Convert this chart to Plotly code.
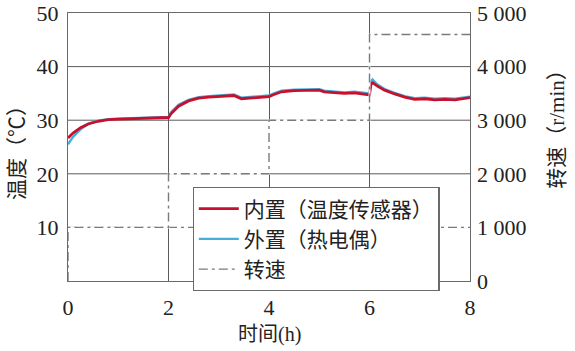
import plotly.graph_objects as go

# ---- data ----
t = [0, 0.1, 0.25, 0.4, 0.6, 0.8, 1.0, 1.3, 1.6, 1.9, 2.0, 2.05, 2.2, 2.4, 2.6, 2.8, 3.0, 3.2, 3.3,
     3.45, 3.6, 3.8, 4.0, 4.1, 4.25, 4.5, 4.8, 5.0, 5.1, 5.3, 5.5, 5.7, 5.9, 6.0, 6.03, 6.06, 6.15,
     6.3, 6.5, 6.7, 6.9, 7.1, 7.3, 7.5, 7.7, 7.9, 8.0]
temp_inner = [26.7, 27.6, 28.6, 29.3, 29.8, 30.1, 30.2, 30.3, 30.3, 30.4, 30.5, 31.2, 32.6, 33.6, 34.1,
              34.3, 34.4, 34.5, 34.6, 34.0, 34.1, 34.2, 34.4, 34.8, 35.3, 35.5, 35.6, 35.6, 35.3, 35.2,
              35.0, 35.1, 34.9, 34.7, 36.8, 37.0, 36.4, 35.6, 34.9, 34.3, 33.9, 34.0, 33.8, 33.9, 33.8,
              34.0, 34.2]
temp_outer = [25.5, 26.9, 28.3, 29.3, 29.9, 30.2, 30.3, 30.4, 30.4, 30.5, 30.6, 31.5, 32.9, 33.8, 34.3,
              34.5, 34.6, 34.7, 34.8, 34.2, 34.3, 34.4, 34.6, 35.0, 35.5, 35.7, 35.8, 35.8, 35.5, 35.4,
              35.2, 35.3, 35.1, 35.0, 37.3, 37.6, 36.7, 35.8, 35.1, 34.5, 34.1, 34.2, 34.0, 34.1, 34.0,
              34.2, 34.4]
speed_t = [0, 0, 2, 4, 6, 8]
speed = [0, 1000, 2000, 3000, 4600, 4600]

x_ticks = [0, 2, 4, 6, 8]
y_ticks = [10, 20, 30, 40, 50]
y2_ticks = [0, 1000, 2000, 3000, 4000, 5000]
y2_labels = ["0", "1 000", "2 000", "3 000", "4 000", "5 000"]
grid_solid = [20, 30, 40]
grid_dashed = [10]

names = ["内置（温度传感器）", "外置（热电偶）", "转速"]

NUM = "Liberation Serif, Noto Sans CJK SC"
CJK = "Noto Sans CJK SC"
GRID = "#5a5a5a"
SPEED_DASH = "9px,4px,3px,4px"

fig = go.Figure()

# white underlay erases gridlines beneath the speed line
fig.add_trace(go.Scatter(x=speed_t, y=speed, yaxis="y2", mode="lines", line_shape="hv",
                         line=dict(color="white", width=2), showlegend=False, hoverinfo="skip"))
fig.add_trace(go.Scatter(x=speed_t, y=speed, yaxis="y2", mode="lines", line_shape="hv",
                         name=names[2], legendrank=3,
                         line=dict(color="#7a7a7a", width=1.4, dash=SPEED_DASH)))
fig.add_trace(go.Scatter(x=t, y=temp_outer, mode="lines", name=names[1], legendrank=2,
                         line=dict(color="#45afdc", width=2.4)))
fig.add_trace(go.Scatter(x=t, y=temp_inner, mode="lines", name=names[0], legendrank=1,
                         line=dict(color="#c8102e", width=2.8)))

shapes = []
for g in grid_solid:
    shapes.append(dict(type="line", xref="paper", x0=0, x1=1, yref="y", y0=g, y1=g,
                       line=dict(color=GRID, width=1), layer="below"))
for g in grid_dashed:
    shapes.append(dict(type="line", xref="paper", x0=0, x1=1, yref="y", y0=g, y1=g,
                       line=dict(color="#7a7a7a", width=1.4, dash=SPEED_DASH), layer="below"))

fig.update_layout(
    width=575, height=351,
    margin=dict(l=68, r=105, t=13, b=70, autoexpand=False),
    paper_bgcolor="white", plot_bgcolor="white",
    showlegend=True,
    shapes=shapes,
    xaxis=dict(range=[0, 8], tickvals=x_ticks, showgrid=True, gridcolor=GRID, gridwidth=1,
               showline=True, linecolor="#6a6a6a", linewidth=1.2, mirror=True, zeroline=False,
               ticks="", ticklabelstandoff=6, layer="below traces", automargin=False,
               tickfont=dict(family=NUM, size=22, color="#222")),
    yaxis=dict(range=[0, 50], tickvals=y_ticks, showgrid=False, zeroline=False,
               showline=True, linecolor="#6a6a6a", linewidth=1.2, mirror=True,
               ticks="", ticklabelstandoff=4, layer="below traces", automargin=False,
               tickfont=dict(family=NUM, size=22, color="#222")),
    yaxis2=dict(range=[0, 5000], overlaying="y", side="right", tickvals=y2_ticks,
                ticktext=y2_labels, showgrid=False, zeroline=False, showline=False,
                ticks="", ticklabelstandoff=6, automargin=False,
                tickfont=dict(family=NUM, size=22, color="#222")),
    legend=dict(x=0.31, y=0.35, xanchor="left", yanchor="top", bgcolor="white",
                bordercolor="#6a6a6a", borderwidth=1.2, tracegroupgap=0,
                font=dict(family=CJK, size=21, color="#222"), itemwidth=40),
    annotations=[
        dict(text="温度（℃）", xref="paper", yref="paper", x=-0.127, y=0.5, textangle=-90,
             showarrow=False, font=dict(family=NUM, size=21, color="#222"),
             xanchor="center", yanchor="middle"),
        dict(text="转速（r/min）", xref="paper", yref="paper", x=1.216, y=0.586, textangle=-90,
             showarrow=False, font=dict(family=NUM, size=21, color="#222"),
             xanchor="center", yanchor="middle"),
        dict(text="时间(h)", xref="paper", yref="paper", x=0.5, y=-0.2,
             showarrow=False, font=dict(family=NUM, size=20, color="#222"),
             xanchor="center", yanchor="middle"),
    ],
)

fig.write_html("out.html")
